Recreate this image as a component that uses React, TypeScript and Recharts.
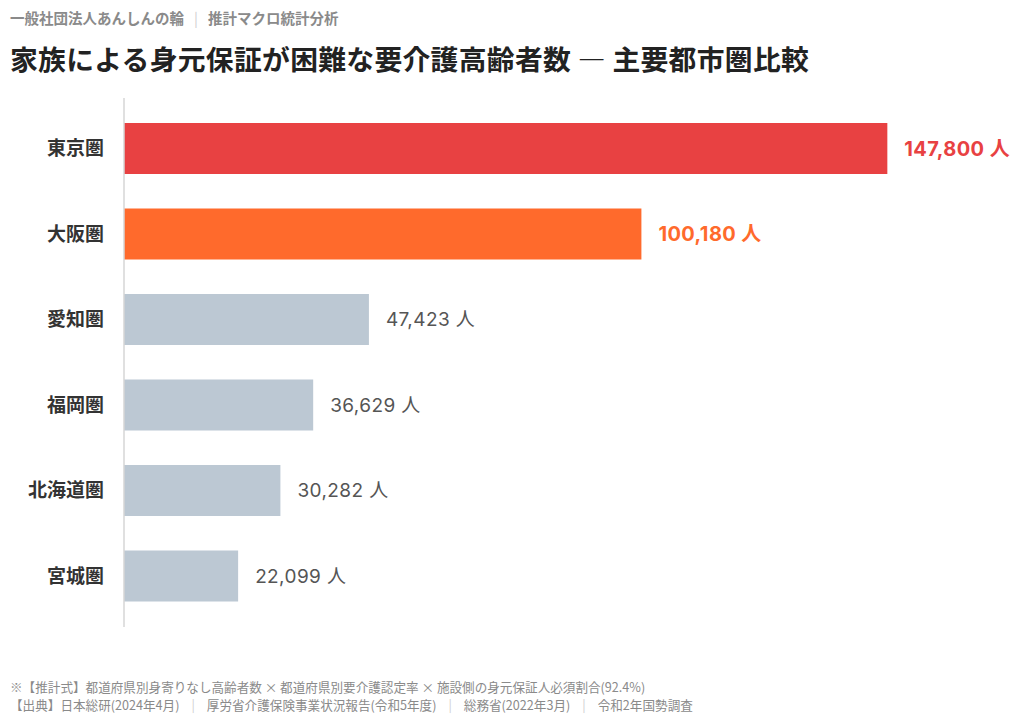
import React from "react";
import { BarChart, Bar, XAxis, YAxis, Cell, LabelList } from "recharts";

const regions = ["東京圏", "大阪圏", "愛知圏", "福岡圏", "北海道圏", "宮城圏"];
const values = [147800, 100180, 47423, 36629, 30282, 22099];
const unit = "人";

const barColors = ["#E84142", "#FF6A2C", "#BCC8D3", "#BCC8D3", "#BCC8D3", "#BCC8D3"];
const labelColors = ["#E84142", "#FF6A2C", "#555555", "#555555", "#555555", "#555555"];
const labelWeights = [700, 700, 400, 400, 400, 400];
const labelSizes = [20, 20, 19, 19, 19, 19];

const data = regions.map((name, i) => ({ name, value: values[i] }));

const FONT = "'Noto Sans CJK JP', 'Noto Sans', sans-serif";
const NUMFONT = "Inter, 'Noto Sans CJK JP', sans-serif";

const ValueLabel = (props: any) => {
  const { x, y, width, height, index, value } = props;
  return (
    <text
      x={x + width + 17}
      y={y + height / 2}
      dominantBaseline="central"
      fill={labelColors[index]}
      fontWeight={labelWeights[index]}
      fontSize={labelSizes[index]}
      fontFamily={NUMFONT}
      letterSpacing={0.4}
    >
      {Number(value).toLocaleString("en-US") + "\u00a0" + unit}
    </text>
  );
};

const Sep = () => (
  <span style={{ color: "#cfcfcf", fontWeight: 400, margin: "0 12px" }}>|</span>
);

export default function App() {
  return (
    <div
      style={{
        position: "absolute",
        left: 0,
        top: 0,
        width: 1024,
        height: 724,
        background: "#fff",
        fontFamily: FONT,
        overflow: "hidden",
      }}
    >
      <div
        style={{
          position: "absolute",
          left: 10,
          top: 7,
          fontSize: 14.5,
          fontWeight: 700,
          color: "#8a8a8a",
          whiteSpace: "nowrap",
        }}
      >
        一般社団法人あんしんの輪
        <span style={{ color: "#cfcfcf", fontWeight: 400, margin: "0 10px" }}>|</span>
        推計マクロ統計分析
      </div>
      <div
        style={{
          position: "absolute",
          left: 10,
          top: 38,
          fontSize: 27.8,
          fontWeight: 700,
          color: "#222",
          whiteSpace: "nowrap",
          letterSpacing: 0.3,
        }}
      >
        家族による身元保証が困難な要介護高齢者数 ― 主要都市圏比較
      </div>
      <div style={{ position: "absolute", left: 0, top: 0 }}>
        <BarChart
          width={1024}
          height={724}
          data={data}
          layout="vertical"
          margin={{ top: 98, right: 22, bottom: 97, left: 0 }}
        >
          <XAxis type="number" domain={[0, 170000]} hide />
          <YAxis
            type="category"
            dataKey="name"
            width={124}
            axisLine={{ stroke: "#d6d6d6", strokeWidth: 1.5 }}
            tickLine={false}
            tickSize={0}
            tickMargin={20}
            padding={{ top: 8, bottom: 8 }}
            tick={{ fill: "#333", fontSize: 19, fontWeight: 700, fontFamily: FONT }}
          />
          <Bar dataKey="value" barSize={51} isAnimationActive={false}>
            {data.map((d, i) => (
              <Cell key={d.name} fill={barColors[i]} />
            ))}
            <LabelList dataKey="value" content={ValueLabel} />
          </Bar>
        </BarChart>
      </div>
      <div
        style={{
          position: "absolute",
          left: 10,
          top: 678,
          fontSize: 12.6,
          color: "#8a8a8a",
          lineHeight: "18px",
          whiteSpace: "nowrap",
        }}
      >
        <div>※【推計式】都道府県別身寄りなし高齢者数 × 都道府県別要介護認定率 × 施設側の身元保証人必須割合(92.4%)</div>
        <div>
          【出典】日本総研(2024年4月)
          <Sep />
          厚労省介護保険事業状況報告(令和5年度)
          <Sep />
          総務省(2022年3月)
          <Sep />
          令和2年国勢調査
        </div>
      </div>
    </div>
  );
}
